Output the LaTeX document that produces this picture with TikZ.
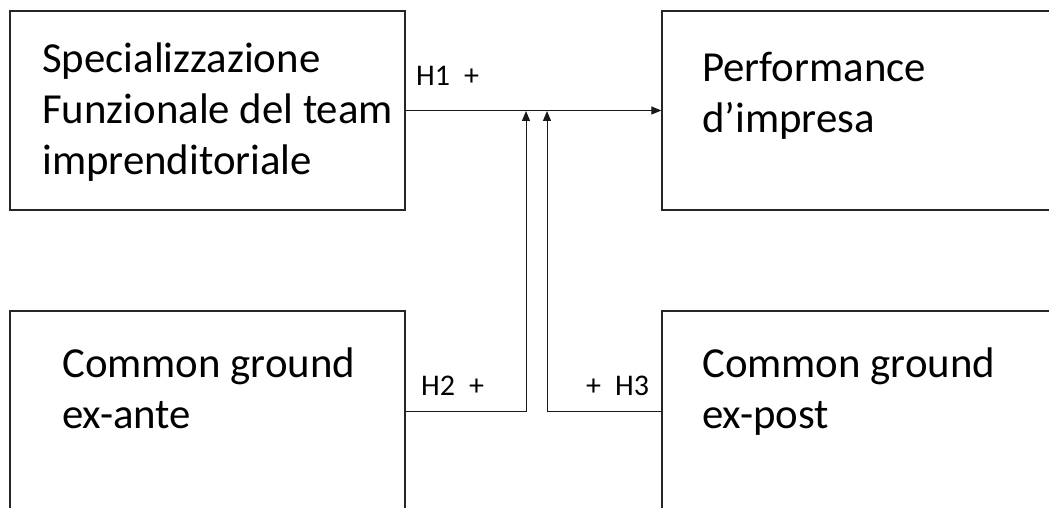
\documentclass[tikz,border=0pt]{standalone}
\usepackage{fontspec}
\setmainfont{Carlito}
\usetikzlibrary{arrows.meta}
\begin{document}
\begin{tikzpicture}[x=1pt,y=-1pt,
  box/.style={draw=black!85,line width=1.3pt,minimum width=395pt,minimum height=199pt,inner sep=0pt},
  txt/.style={anchor=base west,align=left,inner sep=0pt,font=\fontsize{42.8}{51}\selectfont},
  lbl/.style={anchor=base west,inner sep=0pt,font=\fontsize{30}{32}\selectfont},
  conn/.style={line width=1pt,black!90},
  arr/.style={conn,-{Triangle[length=10pt,width=8pt]}}]
\clip (0,0) rectangle (1049,508);
\fill[white] (0,0) rectangle (1049,508);
\node[box] (tl) at (207.5,110.5) {};
\node[box] (tr) at (859.5,110.5) {};
\node[box,minimum height=200pt] (bl) at (207.5,411) {};
\node[box,minimum height=200pt] (br) at (859.5,411) {};
\node[txt] (t1) at (42,174) {Specializzazione\\Funzionale del team\\imprenditoriale};
\node[txt] (t2) at (702,132) {Performance\\d’impresa};
\node[txt] (t3) at (62,428) {Common ground\\ex-ante};
\node[txt] (t4) at (702,428) {Common ground\\ex-post};
\coordinate (j1) at (526,111);
\coordinate (j2) at (547,111);
\draw[arr] (tl.east) -- (tr.west);
\draw[arr] (bl.east) -| (j1);
\draw[arr] (br.west) -| (j2);
\node[lbl] (h1) at (416,86) {H1\hspace{14pt}+};
\node[lbl] (h2) at (421,395) {H2\hspace{14pt}+};
\node[lbl] (h3) at (586,395) {+\hspace{14pt}H3};
\end{tikzpicture}
\end{document}
